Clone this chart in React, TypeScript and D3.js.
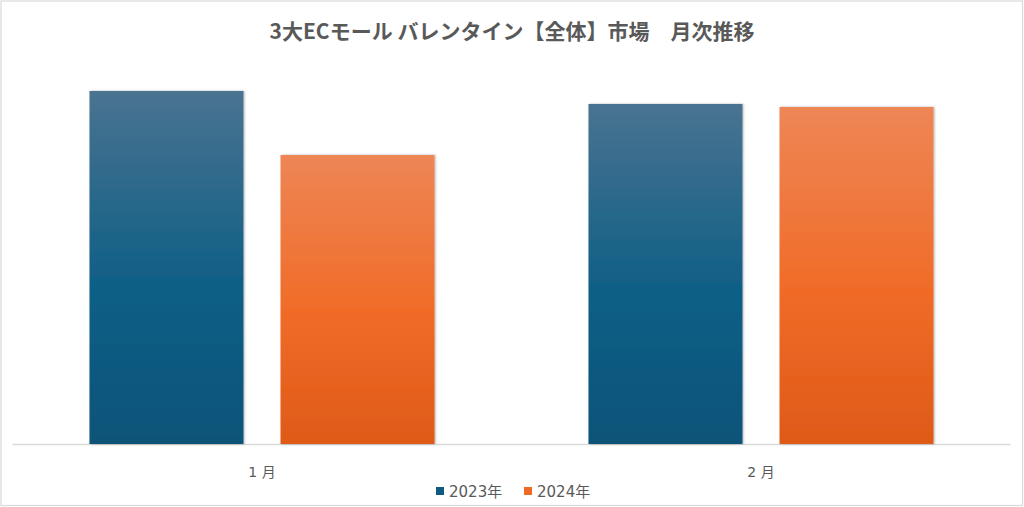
import React from "react";
import * as d3 from "d3";

const title = "3大ECモール バレンタイン【全体】市場　月次推移";
const categories = ["1月", "2月"];
const seriesNames = ["2023年", "2024年"];
const values2023 = [353, 340];
const values2024 = [289, 337];

const W = 1024;
const H = 507;

const gradients = [
  { id: "g2023", top: "#4a7391", mid: "#0f5f86", bottom: "#0a5378", swatch: "#0f5a80" },
  { id: "g2024", top: "#ee8656", mid: "#f06b27", bottom: "#df5a18", swatch: "#ef6a24" },
];

const labelFont = "'DejaVu Sans', 'Noto Sans CJK JP', sans-serif";

export default function App() {
  const x0 = d3.scaleBand<string>().domain(categories).range([12.5, 1010.5]).paddingInner(0).paddingOuter(0);
  const x1 = d3
    .scaleBand<string>()
    .domain(seriesNames)
    .range([0, x0.bandwidth()])
    .paddingInner(0.194)
    .paddingOuter(0.403);
  const y = d3.scaleLinear().domain([0, 400]).range([444, 44]);
  const series = [values2023, values2024];

  return (
    <div style={{ position: "fixed", left: 0, top: 0 }}>
      <svg width={W} height={H} style={{ display: "block", background: "#fff" }}>
        <defs>
          {gradients.map((g) => (
            <linearGradient key={g.id} id={g.id} x1="0" y1="0" x2="0" y2="1">
              <stop offset="0%" stopColor={g.top} />
              <stop offset="55%" stopColor={g.mid} />
              <stop offset="100%" stopColor={g.bottom} />
            </linearGradient>
          ))}
          <filter id="shadow" x="-10%" y="-10%" width="120%" height="120%">
            <feDropShadow dx="1" dy="0" stdDeviation="1.2" floodColor="#000" floodOpacity="0.3" />
          </filter>
        </defs>
        <rect x={1} y={1} width={W - 2.5} height={H - 2.5} fill="#fff" stroke="#d9d9d9" strokeWidth={1.2} />
        <text
          x={W / 2}
          y={39}
          textAnchor="middle"
          fontFamily="'Noto Sans CJK JP', 'Noto Sans', sans-serif"
          fontWeight="bold"
          fontSize={21}
          fill="#595959"
        >
          {title}
        </text>
        <line x1={12.5} x2={1010.5} y1={444.5} y2={444.5} stroke="#d9d9d9" strokeWidth={1.3} />
        {categories.map((c, ci) => (
          <g key={c} transform={`translate(${x0(c)},0)`}>
            {seriesNames.map((s, si) => (
              <rect
                key={s}
                x={x1(s)}
                y={y(series[si][ci])}
                width={x1.bandwidth()}
                height={y(0) - y(series[si][ci])}
                fill={`url(#${gradients[si].id})`}
                filter="url(#shadow)"
              />
            ))}
          </g>
        ))}
        {categories.map((c) => (
          <text
            key={c}
            x={(x0(c) ?? 0) + x0.bandwidth() / 2}
            y={477}
            textAnchor="middle"
            fontFamily={labelFont}
            fontSize={14}
            fill="#595959"
          >
            {c.replace(/^(\d+)/, "$1 ")}
          </text>
        ))}
        <g fontFamily={labelFont} fontSize={15} fill="#595959">
          {seriesNames.map((s, i) => {
            const lx = 436 + i * 88;
            return (
              <g key={s}>
                <rect x={lx} y={487} width={8} height={8} fill={gradients[i].swatch} />
                <text x={lx + 13} y={497}>
                  {s}
                </text>
              </g>
            );
          })}
        </g>
      </svg>
    </div>
  );
}
